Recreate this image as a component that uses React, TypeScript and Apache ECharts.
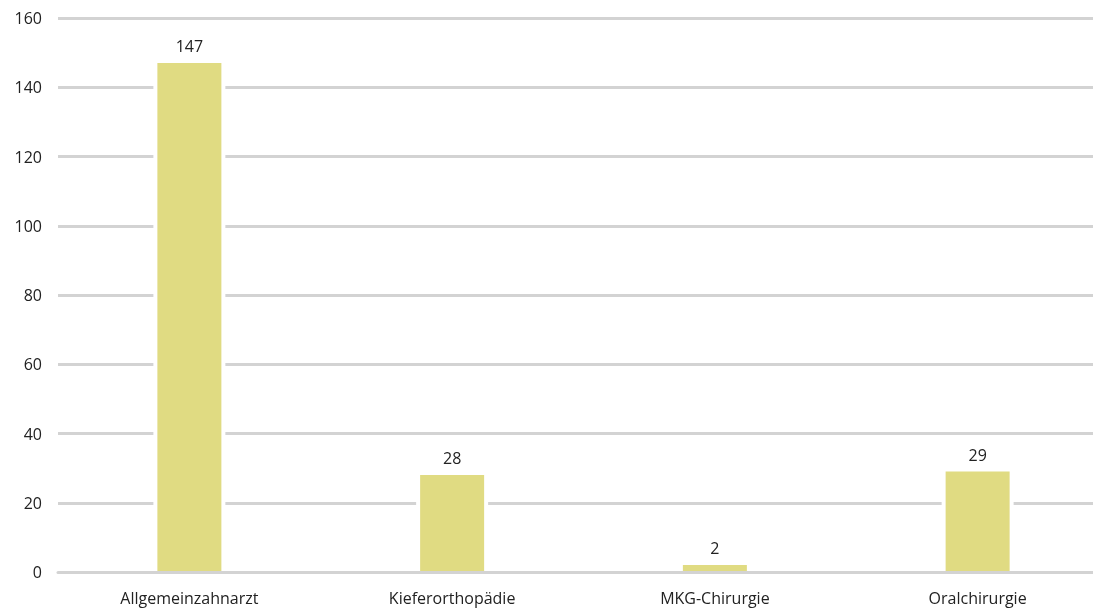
import React, { useEffect, useRef } from "react";
import * as echarts from "echarts";

const categories = ["Allgemeinzahnarzt", "Kieferorthopädie", "MKG-Chirurgie", "Oralchirurgie"];
const values = [147, 28, 2, 29];
const yTicks = { min: 0, max: 160, interval: 20 };

export default function App() {
  const ref = useRef<HTMLDivElement>(null);
  useEffect(() => {
    if (!ref.current) return;
    const chart = echarts.init(ref.current, null, { renderer: "svg" });
    const font = "'Open Sans', 'Noto Sans', sans-serif";
    chart.setOption({
      animation: false,
      grid: { left: 58, right: 0, top: 18, bottom: 38, containLabel: false },
      xAxis: [
        {
          type: "category",
          data: categories,
          z: 5,
          axisLine: { show: true, lineStyle: { color: "#d3d3d3", width: 3 } },
          axisTick: { show: false },
          axisLabel: { color: "#222", fontSize: 16, fontFamily: font, margin: 18 },
        },
        {
          type: "category",
          data: categories,
          show: false,
        },
      ],
      yAxis: {
        type: "value",
        min: yTicks.min,
        max: yTicks.max,
        interval: yTicks.interval,
        z: 0,
        axisLine: { show: false },
        axisTick: { show: false },
        axisLabel: { color: "#222", fontSize: 16, fontFamily: font, margin: 16 },
        splitLine: { lineStyle: { color: "#d3d3d3", width: 3 } },
      },
      series: [
        {
          type: "bar",
          xAxisIndex: 1,
          data: values,
          barWidth: 72,
          silent: true,
          itemStyle: { color: "#ffffff" },
          z: 1,
        },
        {
          type: "bar",
          xAxisIndex: 0,
          data: values,
          barWidth: 64,
          z: 2,
          itemStyle: { color: "#e0db82" },
          label: {
            show: true,
            position: "top",
            color: "#222",
            fontSize: 16,
            fontFamily: font,
            distance: 9,
          },
        },
      ],
    });
    return () => chart.dispose();
  }, []);
  return (
    <div style={{ position: "fixed", left: 0, top: 0, width: 1093, height: 610, overflow: "hidden" }}>
      <div ref={ref} style={{ position: "absolute", left: 0, top: 0, width: 1109, height: 610 }} />
    </div>
  );
}
